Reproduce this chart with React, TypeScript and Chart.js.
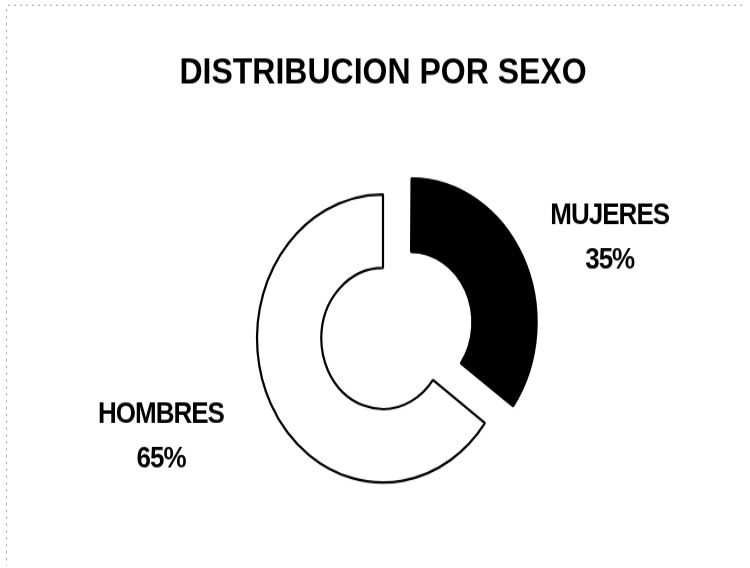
import React, { useEffect, useRef } from "react";
import { Chart, registerables } from "chart.js";

Chart.register(...registerables);

const categories = ["MUJERES", "HOMBRES"];
const values = [35, 65];
const sliceColors = ["#000000", "#ffffff"];
const explodeOffsets = [124, 0];
const titleText = "DISTRIBUCION POR SEXO";

const PAGE_W = 750;
const PAGE_H = 568;
const CANVAS_H = 497; // drawn then stretched vertically like the scanned original

const FONT = '"Liberation Sans", Arial, Helvetica, sans-serif';

// keeps exploded slice the same radius as the rest (Chart.js grows offset slices slightly)
const equalRadiusPlugin = {
  id: "equalRadius",
  afterDatasetUpdate(chart: any, args: any) {
    const meta = args.meta;
    meta.data.forEach((arc: any) => {
      const off = (arc.options?.offset || 0) / 4;
      if (!off) return;
      const circ = arc.circumference || 0;
      const fix = 1 - Math.sin(Math.min(Math.PI, circ));
      const r = off * fix;
      arc.outerRadius = Math.max(arc.outerRadius - r, 0);
      arc.innerRadius = Math.max(arc.innerRadius - r, 0);
    });
  },
};

const scanEdgePlugin = {
  id: "scanEdge",
  beforeDraw(chart: any) {
    const ctx = chart.ctx;
    ctx.save();
    ctx.strokeStyle = "rgba(0,0,0,0.35)";
    ctx.lineWidth = 1;
    ctx.setLineDash([2, 4]);
    ctx.beginPath();
    ctx.moveTo(8, 4.5);
    ctx.lineTo(742, 4.5);
    ctx.moveTo(6.5, 8);
    ctx.lineTo(6.5, chart.height - 2);
    ctx.stroke();
    ctx.restore();
  },
};

const sliceLabelPlugin = {
  id: "sliceLabels",
  afterDatasetsDraw(chart: any, _args: any, opts: any) {
    const ctx = chart.ctx;
    const meta = chart.getDatasetMeta(0);
    const data = chart.data.datasets[0].data as number[];
    const total = data.reduce((a, b) => a + b, 0);
    const baseR = meta.controller.outerRadius;
    ctx.save();
    ctx.fillStyle = "#000";
    ctx.font = `bold ${opts.size}px ${FONT}`;
    try {
      (ctx as any).letterSpacing = opts.spacing;
    } catch (e) {}
    ctx.textAlign = "center";
    ctx.textBaseline = "middle";
    meta.data.forEach((arc: any, i: number) => {
      const mid = (arc.startAngle + arc.endAngle) / 2 + opts.rotate;
      const d = baseR * opts.distance[i];
      const x = arc.x + Math.cos(mid) * d;
      const y = arc.y + Math.sin(mid) * d;
      const pct = Math.round((data[i] / total) * 100) + "%";
      ctx.fillText(String(chart.data.labels[i]), x, y - opts.lineGap / 2);
      ctx.fillText(pct, x, y + opts.lineGap / 2);
    });
    ctx.restore();
  },
};

export default function App() {
  const canvasRef = useRef<HTMLCanvasElement | null>(null);

  useEffect(() => {
    if (!canvasRef.current) return;
    const chart = new Chart(canvasRef.current, {
      type: "doughnut",
      data: {
        labels: categories,
        datasets: [
          {
            data: values,
            backgroundColor: sliceColors,
            borderColor: "#000000",
            borderWidth: 2.2,
            offset: explodeOffsets,
            hoverOffset: 0,
          },
        ],
      },
      options: {
        responsive: false,
        animation: false,
        radius: 126,
        cutout: "49%",
        rotation: 0,
        layout: { padding: { left: 16, right: 0, top: 0, bottom: 0 } },
        plugins: {
          legend: { display: false },
          tooltip: { enabled: false },
          title: {
            display: true,
            text: titleText,
            color: "#000",
            font: { family: FONT, size: 32, weight: "bold", lineHeight: 1.2 },
            padding: { top: 44.5, bottom: 12.3 },
          },
          sliceLabels: {
            size: 26,
            spacing: "-1px",
            rotate: (5.8 * Math.PI) / 180,
            distance: [1.93, 1.89],
            lineGap: 39,
          },
        } as any,
      },
      plugins: [equalRadiusPlugin, scanEdgePlugin, sliceLabelPlugin],
    });
    return () => chart.destroy();
  }, []);

  return (
    <div
      style={{
        position: "fixed",
        left: 0,
        top: 0,
        width: PAGE_W,
        height: PAGE_H,
        background: "#ffffff",
        overflow: "hidden",
      }}
    >
      <canvas
        ref={canvasRef}
        width={PAGE_W}
        height={CANVAS_H}
        style={{ display: "block", width: `${PAGE_W}px`, height: `${PAGE_H}px` }}
      />
    </div>
  );
}
